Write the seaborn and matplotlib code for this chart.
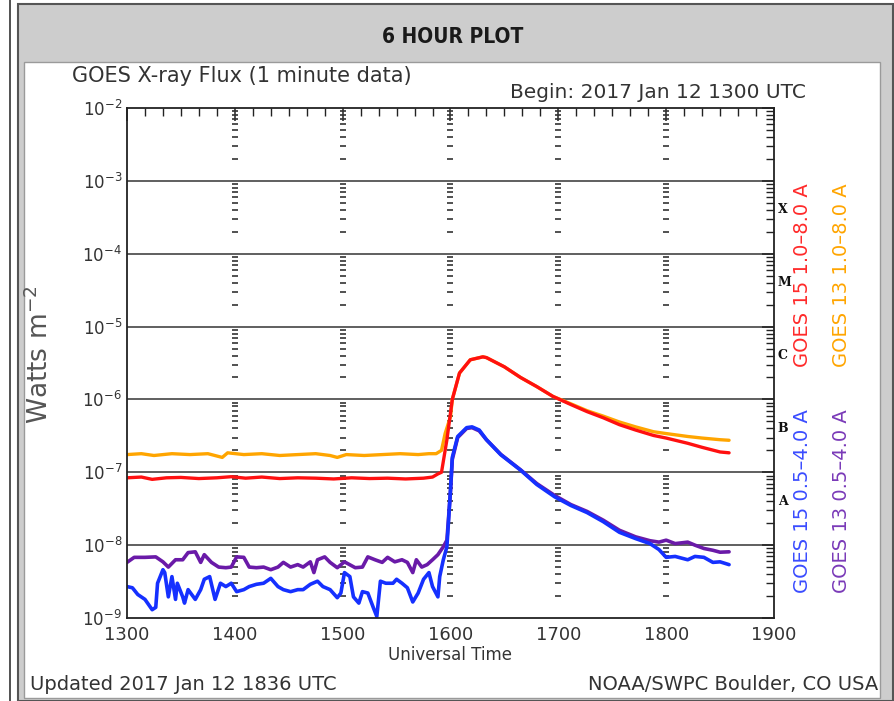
import numpy as np
import seaborn as sns
import matplotlib.pyplot as plt
from matplotlib.patches import Rectangle
from matplotlib.lines import Line2D
from matplotlib.ticker import LogLocator, FixedLocator, MultipleLocator, NullFormatter

# minutes after 1300 UTC, flux in W m^-2
t_g15_short = [0, 3, 6, 10, 14, 16, 17, 20, 21, 23, 25, 27, 28, 31, 32, 34, 38, 41, 43, 46,
               49, 52, 55, 58, 61, 65, 68, 72, 76, 80, 84, 87, 91, 95, 98, 102, 106, 109, 113, 117,
               119, 121, 124, 126, 129, 131, 134, 137, 139, 141, 144, 148, 150, 153, 156, 159, 162, 165, 168, 170,
               173, 174, 176, 178, 180, 181, 184, 189, 192, 196, 200, 208, 219, 228, 238, 247, 256, 265, 274, 283,
               291, 296, 300, 305, 312, 316, 321, 326, 330, 335]
g15_short = [2.7e-9, 2.6e-9, 2.1e-9, 1.8e-9, 1.3e-9, 1.4e-9, 3.0e-9, 4.6e-9, 4.2e-9, 1.95e-9,
             3.7e-9, 1.8e-9, 3.0e-9, 1.95e-9, 1.6e-9, 2.45e-9, 1.8e-9, 2.45e-9, 3.4e-9, 3.7e-9,
             1.8e-9, 3.0e-9, 2.7e-9, 3.0e-9, 2.3e-9, 2.45e-9, 2.7e-9, 2.9e-9, 3.0e-9, 3.5e-9,
             2.7e-9, 2.45e-9, 2.3e-9, 2.45e-9, 2.45e-9, 2.9e-9, 3.2e-9, 2.7e-9, 2.45e-9, 1.9e-9,
             2.2e-9, 4.2e-9, 3.7e-9, 1.95e-9, 1.6e-9, 2.3e-9, 2.2e-9, 1.4e-9, 1.05e-9, 3.2e-9,
             3.0e-9, 3.0e-9, 3.4e-9, 3.0e-9, 2.6e-9, 1.66e-9, 2.2e-9, 3.4e-9, 4.2e-9, 2.7e-9,
             1.95e-9, 3.7e-9, 6.3e-9, 9.5e-9, 5.8e-8, 1.6e-7, 3.1e-7, 4.1e-7, 4.2e-7, 3.8e-7,
             2.8e-7, 1.74e-7, 1.07e-7, 6.8e-8, 4.6e-8, 3.5e-8, 2.8e-8, 2.1e-8, 1.5e-8, 1.23e-8,
             1.05e-8, 8.7e-9, 6.8e-9, 7.0e-9, 6.3e-9, 7.0e-9, 6.8e-9, 5.8e-9, 5.9e-9, 5.4e-9]

t_g13_short = [0, 4, 10, 16, 20, 23, 27, 31, 34, 38, 41, 43, 47, 51, 55, 58, 61, 65, 68, 72,
               76, 80, 84, 87, 91, 95, 98, 102, 104, 106, 110, 113, 117, 121, 127, 131, 134, 138, 142, 145,
               149, 153, 156, 159, 161, 164, 167, 170, 173, 176, 178, 180, 181, 184, 189, 192, 196, 200, 208, 219,
               228, 238, 247, 256, 265, 274, 283, 291, 296, 300, 305, 312, 316, 321, 326, 330, 335]
g13_short = [5.8e-9, 6.8e-9, 6.8e-9, 6.9e-9, 5.9e-9, 5.0e-9, 6.3e-9, 6.3e-9, 7.9e-9, 8.1e-9,
             5.8e-9, 7.4e-9, 5.8e-9, 5.0e-9, 4.9e-9, 5.0e-9, 6.9e-9, 6.8e-9, 5.0e-9, 4.9e-9,
             5.0e-9, 4.6e-9, 5.0e-9, 5.8e-9, 5.0e-9, 5.4e-9, 5.0e-9, 5.9e-9, 4.2e-9, 6.3e-9,
             6.9e-9, 5.8e-9, 4.9e-9, 5.9e-9, 4.9e-9, 5.0e-9, 6.9e-9, 6.3e-9, 5.8e-9, 6.8e-9,
             5.9e-9, 6.3e-9, 5.8e-9, 4.2e-9, 6.3e-9, 5.0e-9, 5.4e-9, 6.3e-9, 7.4e-9, 9.5e-9,
             1.17e-8, 5.5e-8, 1.5e-7, 3.0e-7, 4.0e-7, 4.1e-7, 3.7e-7, 2.8e-7, 1.76e-7, 1.08e-7,
             7.0e-8, 4.8e-8, 3.6e-8, 2.9e-8, 2.2e-8, 1.6e-8, 1.3e-8, 1.15e-8, 1.1e-8, 1.17e-8,
             1.05e-8, 1.1e-8, 1.0e-8, 9.0e-9, 8.5e-9, 8.0e-9, 8.1e-9]

t_g15_long = [0, 8, 14, 22, 30, 40, 50, 58, 66, 75, 85, 95, 105, 115, 125, 135, 145, 155, 165, 170,
              173, 175, 178, 181, 185, 191, 198, 200, 210, 219, 228, 237, 247, 256, 265, 274, 283, 293, 300, 312,
              320, 330, 335]
g15_long = [8.4e-8, 8.6e-8, 8.0e-8, 8.4e-8, 8.5e-8, 8.2e-8, 8.4e-8, 8.7e-8, 8.3e-8, 8.6e-8,
            8.2e-8, 8.4e-8, 8.3e-8, 8.1e-8, 8.4e-8, 8.2e-8, 8.3e-8, 8.1e-8, 8.3e-8, 8.6e-8,
            9.5e-8, 1.0e-7, 2.8e-7, 1.0e-6, 2.3e-6, 3.5e-6, 3.84e-6, 3.75e-6, 2.8e-6, 2.0e-6,
            1.5e-6, 1.1e-6, 8.5e-7, 6.8e-7, 5.6e-7, 4.5e-7, 3.8e-7, 3.2e-7, 2.95e-7, 2.5e-7,
            2.2e-7, 1.9e-7, 1.85e-7]

t_g13_long = [0, 8, 15, 25, 35, 45, 53, 56, 65, 75, 85, 95, 105, 113, 117, 122, 132, 142, 152, 162,
              168, 172, 175, 177, 180, 181, 185, 191, 198, 200, 210, 219, 228, 237, 247, 256, 265, 274, 283, 293,
              300, 312, 320, 330, 335]
g13_long = [1.75e-7, 1.8e-7, 1.7e-7, 1.8e-7, 1.75e-7, 1.8e-7, 1.6e-7, 1.85e-7, 1.75e-7, 1.8e-7,
            1.7e-7, 1.75e-7, 1.8e-7, 1.7e-7, 1.6e-7, 1.75e-7, 1.7e-7, 1.75e-7, 1.8e-7, 1.75e-7,
            1.8e-7, 1.8e-7, 2.0e-7, 3.4e-7, 5.8e-7, 1.0e-6, 2.3e-6, 3.5e-6, 3.84e-6, 3.75e-6,
            2.8e-6, 2.0e-6, 1.5e-6, 1.1e-6, 8.7e-7, 7.0e-7, 5.9e-7, 4.9e-7, 4.2e-7, 3.6e-7,
            3.4e-7, 3.1e-7, 2.95e-7, 2.8e-7, 2.75e-7]

hour_ticks = [0, 60, 120, 180, 240, 300, 360]
hour_labels = ['1300', '1400', '1500', '1600', '1700', '1800', '1900']
decades = [1e-8, 1e-7, 1e-6, 1e-5, 1e-4, 1e-3]
flare_classes = ['A', 'B', 'C', 'M', 'X']
flare_pos = [4e-8, 4e-7, 4e-6, 4e-5, 4e-4]

W, H = 895, 701


def fx(x):
    return x / W


def fy(y):
    return 1 - y / H


sns.set_style('white')
plt.rcParams['font.family'] = ['DejaVu Sans']

fig = plt.figure(figsize=(W / 100, H / 100), dpi=100)

# frame around the panel, kept behind the axes
fig.add_artist(Line2D([fx(10), fx(10)], [0, 1], color='#333333', lw=1.2, zorder=-3))
fig.add_artist(Rectangle((fx(18), 0), fx(875), fy(4), facecolor='#cdcdcd',
                         edgecolor='#555555', lw=1.5, zorder=-3))
fig.add_artist(Rectangle((fx(24), fy(698)), fx(856), fy(62) - fy(698), facecolor='white',
                         edgecolor='#9a9a9a', lw=1, zorder=-2))

ax = fig.add_axes([fx(127), fy(618), fx(774 - 127), fy(108) - fy(618)])
ax.patch.set_alpha(0)

sns.lineplot(x=t_g13_long, y=g13_long, ax=ax, color='#ffa500', lw=2.4, estimator=None)
sns.lineplot(x=t_g15_long, y=g15_long, ax=ax, color='#ff1010', lw=2.4, estimator=None)
sns.lineplot(x=t_g13_short, y=g13_short, ax=ax, color='#6a1aa8', lw=2.6, estimator=None)
sns.lineplot(x=t_g15_short, y=g15_short, ax=ax, color='#1530ff', lw=2.6, estimator=None)

ax.set_yscale('log')
ax.set_ylim(1e-9, 1e-2)
ax.set_xlim(0, 360)

for d in decades:
    ax.axhline(d, color='#444444', lw=1.2, zorder=0)

# IDL style minor dashes at each hour
minor_y = [m * 10.0 ** e for e in range(-9, -2) for m in range(2, 10)]
for h in hour_ticks[1:-1]:
    ax.plot([h] * len(minor_y), minor_y, ls='none', marker='_', ms=5, mew=1.2,
            color='#333333', zorder=1)

ax.xaxis.set_major_locator(FixedLocator(hour_ticks))
ax.set_xticklabels(hour_labels)
ax.xaxis.set_minor_locator(MultipleLocator(10))
ax.yaxis.set_major_locator(LogLocator(base=10, numticks=20))
ax.yaxis.set_minor_locator(LogLocator(base=10, subs=np.arange(2, 10), numticks=20))
ax.yaxis.set_minor_formatter(NullFormatter())

ax.tick_params(which='both', direction='in', top=True, right=True, colors='#222222',
               labelcolor='#333333')
ax.tick_params(which='major', length=9, width=1.1)
ax.tick_params(which='minor', length=6, width=1.0)
ax.tick_params(axis='x', which='major', labelsize=13, pad=6)
ax.tick_params(axis='y', which='major', labelsize=12)
for s in ax.spines.values():
    s.set_color('#222222')
    s.set_linewidth(1.3)

ax.set_xlabel('Universal Time', fontsize=12, color='#333333', labelpad=1)
ax.set_ylabel('')

for c, p in zip(flare_classes, flare_pos):
    ax.text(1.006, p, c, transform=ax.get_yaxis_transform(), fontsize=9, fontweight='bold',
            family='DejaVu Serif', va='center', ha='left', color='#111111')

fig.text(fx(453), fy(37), '6 HOUR PLOT', ha='center', va='center', fontsize=15,
         fontweight='heavy', fontstretch='condensed', color='#1a1a1a')
fig.text(fx(72), fy(76), 'GOES X-ray Flux (1 minute data)', ha='left', va='center',
         fontsize=15, color='#333333')
fig.text(fx(806), fy(93), 'Begin: 2017 Jan 12 1300 UTC', ha='right', va='center',
         fontsize=14.5, color='#333333')
fig.text(fx(40), fy(355), 'Watts m$^{-2}$', rotation=90, ha='center', va='center',
         fontsize=19, color='#555555')
fig.text(fx(30), fy(684), 'Updated 2017 Jan 12 1836 UTC', ha='left', va='center',
         fontsize=14, color='#333333')
fig.text(fx(878), fy(684), 'NOAA/SWPC Boulder, CO USA', ha='right', va='center',
         fontsize=14, color='#333333')

fig.text(fx(802), fy(275), 'GOES 15 1.0\u20138.0 A', rotation=90, ha='center', va='center',
         fontsize=14, color='#ff2a2a')
fig.text(fx(842), fy(275), 'GOES 13 1.0\u20138.0 A', rotation=90, ha='center', va='center',
         fontsize=14, color='#ffa500')
fig.text(fx(802), fy(501), 'GOES 15 0.5\u20134.0 A', rotation=90, ha='center', va='center',
         fontsize=14, color='#3a4cff')
fig.text(fx(842), fy(501), 'GOES 13 0.5\u20134.0 A', rotation=90, ha='center', va='center',
         fontsize=14, color='#7a3ab8')

fig.savefig('out.png', dpi=100)
